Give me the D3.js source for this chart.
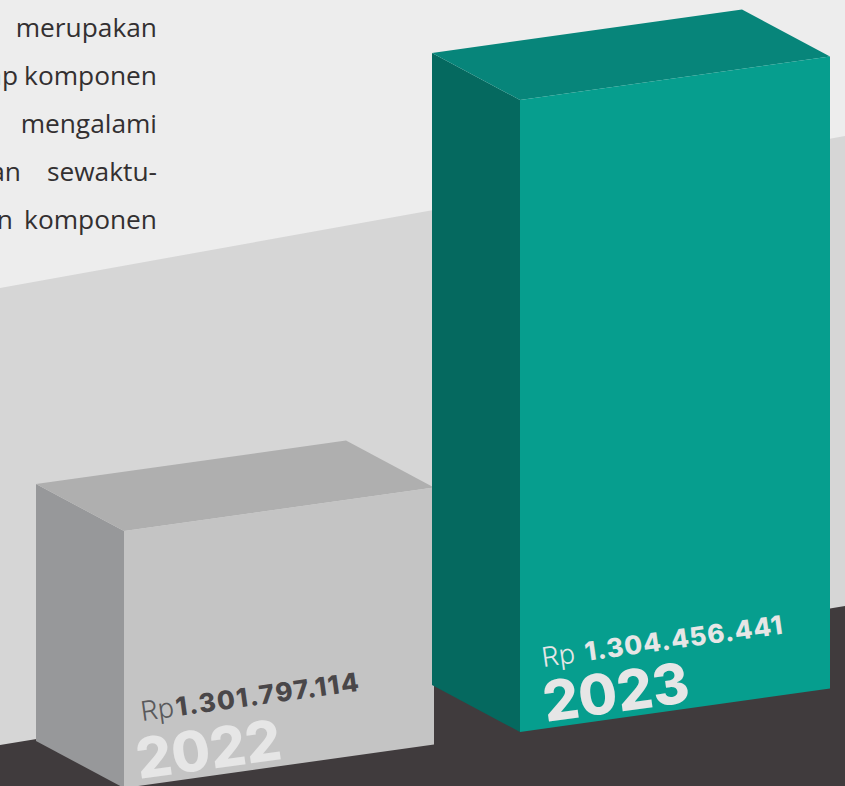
<!DOCTYPE html>
<html><head><meta charset="utf-8">
<script src="https://cdn.jsdelivr.net/npm/d3@7"></script>
<style>html,body{margin:0;padding:0;background:#ededed;overflow:hidden}svg{display:block}</style>
</head><body><svg id="c" width="845" height="786"></svg>
<script>
const years = ["2022", "2023"];
const amounts = [1301797114, 1304456441];
const bodyWords = [["merupakan"], ["ap", "komponen"], ["mengalami"], ["an", "sewaktu-"], ["n", "komponen"]];

const W = 845, H = 786;
const svg = d3.select("#c");
const rupiah = d3.formatLocale({decimal: ",", thousands: ".", grouping: [3], currency: ["Rp", ""]}).format(",d");

const x = d3.scaleBand().domain(years).range([124, 830]).paddingInner(86 / 396).paddingOuter(0).align(0);
const h = d3.scaleLinear().domain(amounts).range([257, 632]);
const slope = -43.5 / 310, depthX = -88, depthY = -47;
const floorY = d3.scaleLinear().domain([124, 520]).range([788, 732]);
const path = pts => "M" + pts.map(p => p.join(",")).join("L") + "Z";

svg.append("rect").attr("width", W).attr("height", H).attr("fill", "#ededed");
svg.append("path").attr("d", path([[0, 288], [W, 136], [W, H], [0, H]])).attr("fill", "#d6d6d6");
svg.append("path").attr("d", path([[0, 745], [W, 606], [W, H], [0, H]])).attr("fill", "#403b3d");

const palette = d3.scaleOrdinal().domain(years).range([
  {front: "#c4c4c4", side: "#97989a", top: "#afafaf", rp: "#5a5a5c", val: "#4a4749", yr: "#e6e6e6", gap: 2, ls: 1.5, rpX: 18, rpY: 67, yrX: 15, yrY: 9},
  {front: "#069e8e", side: "#05695f", top: "#07857a", rp: "#e6e6e6", val: "#e6e6e6", yr: "#e6e6e6", gap: 10, ls: 0.95, rpX: 23, rpY: 65, yrX: 26, yrY: 10}
]);

const bars = svg.selectAll("g.bar").data(years.map((y, i) => ({y, v: amounts[i]}))).join("g").attr("class", "bar");
bars.each(function (d) {
  const g = d3.select(this), c = palette(d.y);
  const x0 = x(d.y), w = x.bandwidth(), b0 = floorY(x0), t0 = b0 - h(d.v);
  const rise = w * slope;
  g.append("path").attr("fill", c.side).attr("d", path([[x0, t0], [x0 + depthX, t0 + depthY], [x0 + depthX, b0 + depthY], [x0, b0]]));
  g.append("path").attr("fill", c.top).attr("d", path([[x0, t0], [x0 + depthX, t0 + depthY], [x0 + depthX + w, t0 + depthY + rise], [x0 + w, t0 + rise]]));
  g.append("path").attr("fill", c.front).attr("d", path([[x0, t0], [x0 + w, t0 + rise], [x0 + w, b0 + rise], [x0, b0]]));
  const lab = g.append("g").attr("transform", `translate(${x0 + c.rpX},${b0 - c.rpY}) rotate(-7.9)`);
  const t = lab.append("text").attr("font-family", "Inter, 'Open Sans', sans-serif").attr("font-size", 27);
  t.append("tspan").attr("fill", c.rp).attr("font-weight", 300).text("Rp");
  t.append("tspan").attr("fill", c.val).attr("font-weight", 800).attr("dx", c.gap).attr("font-size", 26).attr("letter-spacing", c.ls).text(rupiah(d.v));
  g.append("text").attr("transform", `translate(${x0 + c.yrX},${b0 - c.yrY}) rotate(-7.9)`)
    .attr("font-family", "Inter, 'Open Sans', sans-serif").attr("font-weight", 800).attr("font-size", 56)
    .attr("fill", c.yr).text(d.y);
});

const lineY = d3.scalePoint().domain(d3.range(bodyWords.length)).range([37, 229]);
const body = svg.append("g").attr("font-family", "'Open Sans', 'Noto Sans', sans-serif").attr("font-size", 26.3).attr("fill", "#333031");
bodyWords.forEach((ws, i) => {
  body.append("text").attr("x", 157).attr("y", lineY(i)).attr("text-anchor", "end").text(ws[ws.length - 1]);
  if (ws.length > 1) body.append("text").attr("x", i === 1 ? 18 : i === 3 ? 21 : 13).attr("y", lineY(i)).attr("text-anchor", "end").text(ws[0]);
});
</script></body></html>
